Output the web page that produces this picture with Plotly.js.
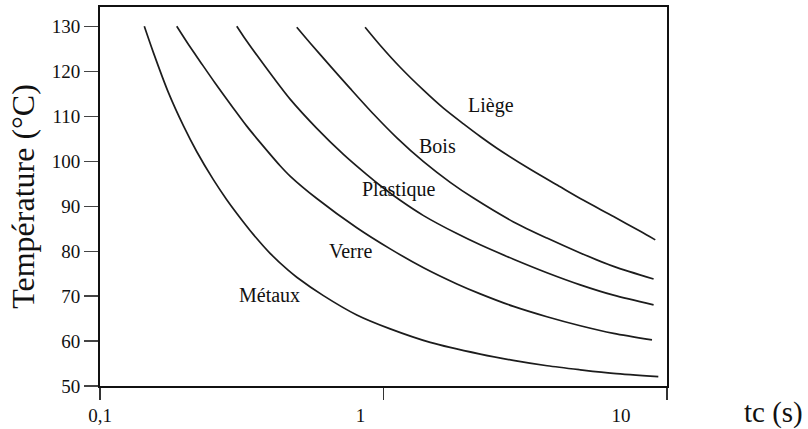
<!DOCTYPE html>
<html>
<head>
<meta charset="utf-8">
<script src="https://cdn.plot.ly/plotly-3.0.1.min.js"></script>
<style>html,body{margin:0;padding:0;background:#fff;}#chart{width:808px;height:429px;}</style>
</head>
<body>
<div id="chart"></div>
<script>
// Temps de contact tc (s) -> température (°C), axe x logarithmique
const metauxTc = [0.1433,0.1542,0.1742,0.1968,0.2195,0.2511,0.2799,0.3204,0.3573,0.3981,0.4619,0.4944,0.6138,0.805,1.056,1.461,2.194,2.868,3.779,4.943,6.464,9.318];
const metauxT  = [130,124.2,115.3,107.9,102.1,95.9,91.45,86.5,82.8,79.5,75.7,74.2,70.1,65.8,62.7,59.7,57.1,55.7,54.5,53.6,52.8,52.1];

const verreTc = [0.1865,0.2049,0.2254,0.2546,0.2954,0.3294,0.367,0.4318,0.4683,0.5817,0.805,1.056,1.384,1.815,2.194,2.875,3.771,4.943,6.479,8.851];
const verreT  = [130,126.0,122.2,117.4,111.8,107.8,104.2,99.0,96.7,91.7,85.2,80.5,76.3,72.7,70.5,67.7,65.4,63.4,61.7,60.25];

const plastiqueTc = [0.3037,0.3204,0.3573,0.4089,0.4683,0.5817,0.7223,0.8734,0.973,1.145,1.384,1.815,2.194,2.875,3.771,4.943,6.479,8.968];
const plastiqueT  = [130,127.8,123.6,118.6,113.8,107.3,101.5,97.0,94.6,91.3,87.9,83.9,81.4,78.2,75.2,72.5,70.2,68.05];

const boisTc = [0.4944,0.551,0.6482,0.7625,0.9215,1.115,1.384,1.719,2.077,2.875,3.771,4.943,6.479,8.968];
const boisT  = [129.8,126.3,121.2,116.2,110.5,105.2,99.9,95.3,91.8,86.5,82.9,79.6,76.6,73.8];

const liegeTc = [0.8612,0.973,1.145,1.384,1.627,1.915,2.194,2.512,3.293,4.202,5.078,6.479,8.051,9.093];
const liegeT  = [129.8,125.8,120.9,115.8,111.8,108.3,105.5,102.9,98.2,94.3,91.3,87.7,84.4,82.5];

const materials = ["Métaux","Verre","Plastique","Bois","Liège"];
const labelTc = [0.395,0.762,1.126,1.547,2.40];
const labelT  = [70.3,80.1,93.7,103.3,112.4];

const xTickVals = [0.1,1,10];
const xTickText = ["0,1","1","10"];
const yTickVals = [50,60,70,80,90,100,110,120,130];

const series = [[metauxTc,metauxT],[verreTc,verreT],[plastiqueTc,plastiqueT],[boisTc,boisT],[liegeTc,liegeT]];
const FONT = "Liberation Serif, Times New Roman, serif";

const traces = series.map((s,i)=>({
  x:s[0], y:s[1], type:'scatter', mode:'lines', name:materials[i],
  line:{color:'#1c1c1c', width:1.7, shape:'spline', smoothing:0.8},
  hoverinfo:'skip', showlegend:false
}));
// empty trace carrying the label-only axis
traces.push({x:[], y:[], xaxis:'x2', yaxis:'y', type:'scatter', mode:'lines', showlegend:false, hoverinfo:'skip'});

const annotations = materials.map((m,i)=>({
  x:Math.log10(labelTc[i]), y:labelT[i], xref:'x', yref:'y', text:m, showarrow:false,
  xanchor:'center', yanchor:'middle', font:{family:FONT, size:20, color:'#111'}
}));
annotations.push({
  x:1.187, y:-0.07, xref:'paper', yref:'paper', text:'tc (s)', showarrow:false,
  xanchor:'center', yanchor:'middle', font:{family:FONT, size:29, color:'#111'}
});

const layout = {
  width:808, height:429,
  margin:{l:100, r:141, t:7, b:43, pad:0},
  paper_bgcolor:'#fff', plot_bgcolor:'#fff',
  font:{family:FONT, color:'#111'},
  xaxis:{
    type:'log', range:[-1,1], showgrid:false, zeroline:false,
    showline:true, mirror:true, linecolor:'#111', linewidth:2,
    ticks:'outside', ticklen:12, tickwidth:1.2, tickcolor:'#333',
    tickvals:xTickVals, showticklabels:false, fixedrange:true
  },
  xaxis2:{
    type:'log', range:[-1,1.1766], overlaying:'x', side:'bottom', anchor:'y',
    showgrid:false, zeroline:false, showline:false,
    ticks:'outside', ticklen:12, tickcolor:'rgba(0,0,0,0)',
    tickvals:xTickVals, ticktext:xTickText,
    tickfont:{family:FONT, size:19, color:'#111'}, fixedrange:true
  },
  yaxis:{
    range:[50,134.3], showgrid:false, zeroline:false,
    showline:true, mirror:true, linecolor:'#111', linewidth:2,
    ticks:'outside', ticklen:14, tickwidth:1.2, tickcolor:'#444',
    tickvals:yTickVals, tickfont:{family:FONT, size:19, color:'#111'},
    title:{text:'Température (°C)', font:{family:FONT, size:32, color:'#111'}, standoff:8},
    fixedrange:true
  },
  annotations:annotations,
  showlegend:false
};

Plotly.newPlot('chart', traces, layout, {displayModeBar:false, staticPlot:true});
</script>
</body>
</html>
